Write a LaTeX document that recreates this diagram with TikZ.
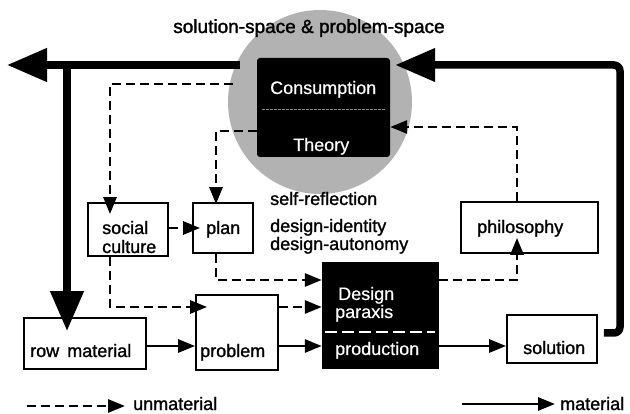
\documentclass[tikz,border=0pt]{standalone}
\usepackage{fontspec}
\setmainfont{Liberation Sans}
\newfontfamily\bk{Liberation Sans}[FakeBold=1.3]
\newfontfamily\bkt{Liberation Sans}[FakeBold=1.6]
\newfontfamily\wt{Liberation Sans}[FakeBold=0.4]
\usetikzlibrary{arrows.meta}
\begin{document}
\begin{tikzpicture}[x=1pt,y=-1pt,
  box/.style={draw, line width=1.8pt, inner sep=0pt},
  lbl/.style={font=\bk\fontsize{18}{20}\selectfont, inner sep=0pt},
  wlbl/.style={font=\wt\fontsize{18}{20}\selectfont, text=white, inner sep=0pt},
  dashline/.style={line width=2.8pt, dash pattern=on 9pt off 5pt},
  dasharrow/.style={dashline, -{Triangle[length=17pt,width=13pt]}},
  solidarrow/.style={line width=2.8pt, -{Triangle[length=17pt,width=13pt]}},
  heavyarrow/.style={line width=7.5pt, -{Triangle[length=40pt,width=32pt]}},
]
\useasboundingbox (0,0) rectangle (630,414);
% gray space
\node[circle, fill=black!30, minimum size=184pt, inner sep=0pt] (space) at (320,102) {};
\node[lbl, anchor=base, font=\bkt\fontsize{19}{21}\selectfont] (title) at (309,33) {solution-space \& problem-space};

% coordinates
\coordinate (h1) at (240,65);
\coordinate (h2) at (7,65);
\coordinate (v1) at (67,62);
\coordinate (r1) at (620,333);
\coordinate (r2) at (620,65);
\coordinate (k1) at (110,84);
\coordinate (c1) at (233,84);
\coordinate (k2) at (216,131);
\coordinate (k3) at (517,127);
\coordinate (y228) at (0,228);
\coordinate (k4) at (110,307);
\coordinate (k5) at (216,280);
\coordinate (k6) at (517,280);
\coordinate (y346) at (0,346);

% boxes
\node[fill=black, rounded corners=3pt, minimum width=133pt, minimum height=99pt, inner sep=0pt] (cons) at (323.5,107.5) {};
\draw[black!45, line width=0.9pt, dash pattern=on 3pt off 1pt] (262,109) -- (386,109);
\node[wlbl, anchor=base west] (tcons) at (270,94) {Consumption};
\node[wlbl, anchor=base west] (ttheory) at (293,151) {Theory};

\node[fill=black, minimum width=117pt, minimum height=107pt, inner sep=0pt] (design) at (380.5,315.5) {};
\node[wlbl, anchor=base west] (tdesign) at (338,300) {Design};
\node[wlbl, anchor=base west] (tparaxis) at (335,318) {paraxis};
\draw[white, line width=1.2pt, dash pattern=on 12pt off 5pt] (325,332) -- (435,332);
\node[wlbl, anchor=base west] (tprod) at (335,355) {production};

\node[box, minimum width=80pt, minimum height=53pt] (soc) at (128,229.5) {};
\node[lbl, anchor=base west] (tsoc) at (102,234) {social};
\node[lbl, anchor=base west] (tcul) at (102,253) {culture};

\node[box, minimum width=60pt, minimum height=50pt] (plan) at (223,228) {};
\node[lbl, anchor=base west] (tplan) at (206,234) {plan};

\node[box, minimum width=137pt, minimum height=51pt] (phil) at (529.5,227.5) {};
\node[lbl, anchor=base west] (tphil) at (477,233) {philosophy};

\node[box, minimum width=122pt, minimum height=51pt] (rowm) at (85,343.5) {};
\node[lbl, anchor=base west] (trowm) at (30,357) {row\hspace{0.45em}material};

\node[box, minimum width=82pt, minimum height=75pt] (prob) at (237,332.5) {};
\node[lbl, anchor=base west] (tprob) at (200,357) {problem};

\node[box, minimum width=90pt, minimum height=48pt] (sol) at (552,339) {};
\node[lbl, anchor=base west] (tsol) at (523,354) {solution};

\node[lbl, anchor=base west] (self) at (270,205) {self-reflection};
\node[lbl, anchor=base west] (did) at (270,232) {design-identity};
\node[lbl, anchor=base west] (dau) at (270,250) {design-autonomy};

% heavy material flows
\draw[heavyarrow] (h1) -- (h2);
\draw[heavyarrow, shorten >=-14pt] (v1) -- (v1 |- rowm.north);
\draw[heavyarrow, rounded corners=6pt, shorten <=6pt, shorten >=5pt] (sol.east |- r1) -- (r1) -- (r2) -- (cons.east |- r2);

% unmaterial flows
\draw[dasharrow, shorten >=-12pt] (c1) -- (k1) -- (k1 |- soc.north);
\draw[dasharrow, shorten >=-2pt] (cons.west |- k2) -- (k2) -- (k2 |- plan.north);
\draw[dasharrow] (k3 |- phil.north) -- (k3) -- (cons.east |- k3);
\draw[dasharrow, shorten >=-8pt] (soc.east |- y228) -- (plan.west |- y228);
\draw[dasharrow, shorten >=-12pt] (k4 |- soc.south) -- (k4) -- (prob.west |- k4);
\draw[dasharrow] (prob.east |- k4) -- (design.west |- k4);
\draw[dasharrow] (k5 |- plan.south) -- (k5) -- (design.west |- k5);
\draw[dasharrow, shorten >=-16pt] (design.east |- k6) -- (k6) -- (k6 |- phil.south);

% material flows
\draw[solidarrow] (rowm.east |- y346) -- (prob.west |- y346);
\draw[solidarrow] (prob.east |- y346) -- (design.west |- y346);
\draw[solidarrow] (design.east |- y346) -- (sol.west |- y346);

% legend
\coordinate (l1) at (27,406);
\coordinate (l2) at (125,406);
\draw[dasharrow] (l1) -- (l2);
\node[lbl, anchor=base west] (tunm) at (133,410) {unmaterial};
\coordinate (m1) at (462,404);
\coordinate (m2) at (555,404);
\draw[solidarrow] (m1) -- (m2);
\node[lbl, anchor=base west] (tmat) at (560,410) {material};
\end{tikzpicture}
\end{document}
